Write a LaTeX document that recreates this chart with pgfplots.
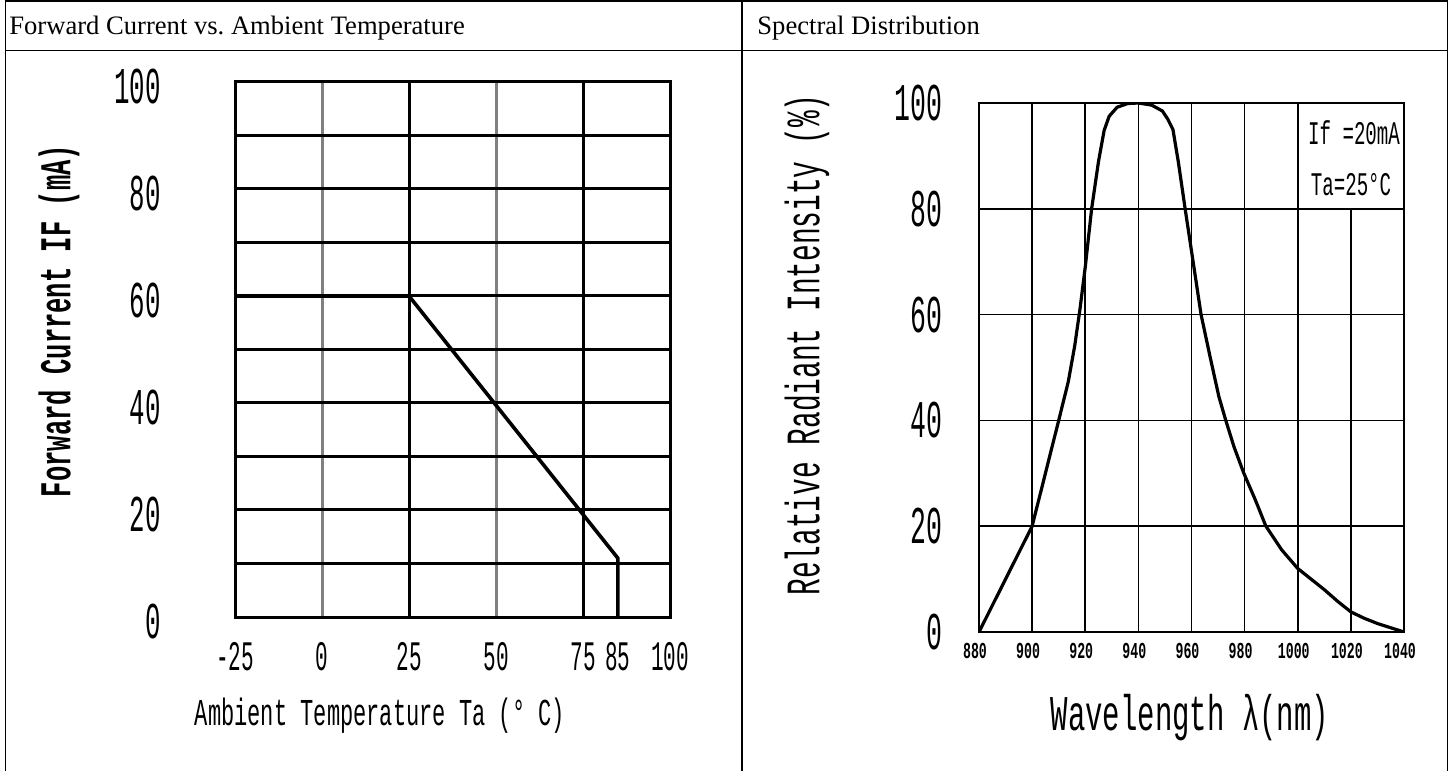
\documentclass[border=0pt]{standalone}
\usepackage{pgfplots}
\pgfplotsset{compat=1.18}
\usepackage{fontspec}
\setmainfont{Liberation Serif}
\newfontfamily\fA[FakeStretch=0.5]{Liberation Mono}
\newfontfamily\fX[FakeStretch=0.58]{Liberation Mono}
\definecolor{gl}{gray}{0.5}
\begin{document}
\begin{tikzpicture}
\useasboundingbox (0,0) rectangle (727.5pt,385.5pt);
% table frame
\draw[line width=0.85pt] (2.75pt,0) -- (2.75pt,385pt) -- (723.75pt,385pt) -- (723.75pt,0);
\draw[line width=0.85pt] (371pt,0) -- (371pt,385pt);
\draw[line width=0.85pt] (2.75pt,360.25pt) -- (723.75pt,360.25pt);
\node[anchor=base west, inner sep=0pt, font=\fontsize{13.3}{14}\selectfont] at (4.5pt,368pt) {Forward Current vs.\ Ambient Temperature};
\node[anchor=base west, inner sep=0pt, font=\fontsize{13.3}{14}\selectfont] at (378.5pt,368pt) {Spectral Distribution};

% ---------------- left chart ----------------
\begin{axis}[at={(117.5pt,77pt)}, anchor=south west, scale only axis,
  width=217.5pt, height=267.5pt,
  xmin=-25, xmax=100, ymin=0, ymax=100,
  xtick={-25,0,25,50,75,85,100}, xticklabels={-25,0,25,50,75,85,100},
  ytick={0,20,40,60,80,100}, yticklabels={0,20,40,60,80,100},
  minor ytick={10,30,50,70,90},
  ymajorgrids, yminorgrids,
  major grid style={black, line width=1.5pt},
  minor grid style={black, line width=1.5pt},
  major tick length=0pt, minor tick length=0pt,
  axis line style={black, line width=1.5pt},
  axis on top,
  xticklabel style={font=\fA\fontsize{21}{21}\selectfont, anchor=center, inner sep=0pt, yshift=-20pt},
  yticklabel style={font=\fA\fontsize{25.8}{26}\selectfont, anchor=east, inner sep=0pt, xshift=-37pt, yshift=-2pt},
]
\addplot[gl, line width=1.5pt, forget plot] coordinates {(-25,80) (100,80)};
\addplot[black, line width=1.5pt, forget plot] coordinates {(25,0) (25,100)};
\addplot[black, line width=1.5pt, forget plot] coordinates {(75,0) (75,100)};
\addplot[gl, line width=1.5pt, forget plot] coordinates {(0,0) (0,100)};
\addplot[gl, line width=1.5pt, forget plot] coordinates {(50,0) (50,100)};
\addplot[black, line width=1.8pt] coordinates {(-25,60) (25,60) (85,11) (85,0)};
\end{axis}

% ---------------- right chart ----------------
\begin{axis}[at={(489.5pt,69.5pt)}, anchor=south west, scale only axis,
  width=212.5pt, height=264.5pt,
  xmin=880, xmax=1040, ymin=0, ymax=100,
  xtick={880,900,920,940,960,980,1000,1020,1040},
  xticklabels={880,900,920,940,960,980,1000,1020,1040},
  ytick={0,20,40,60,80,100}, yticklabels={0,20,40,60,80,100},
  ymajorgrids,
  major grid style={black, line width=0.85pt},
  major tick length=0pt,
  axis line style={black, line width=1.3pt},
  axis on top,
  xticklabel style={font=\fX\bfseries\fontsize{11.4}{12}\selectfont, anchor=center, inner sep=0pt, yshift=-9.5pt, xshift=-2pt},
  yticklabel style={font=\fA\fontsize{26.5}{27}\selectfont, anchor=east, inner sep=0pt, xshift=-18pt},
]
\addplot[black, line width=0.85pt, forget plot] coordinates {(900,0) (900,100)};
\addplot[black, line width=0.85pt, forget plot] coordinates {(920,0) (920,100)};
\addplot[black, line width=0.85pt, forget plot] coordinates {(940,0) (940,100)};
\addplot[black, line width=0.85pt, forget plot] coordinates {(960,0) (960,100)};
\addplot[black, line width=0.85pt, forget plot] coordinates {(980,0) (980,100)};
\addplot[black, line width=0.85pt, forget plot] coordinates {(1000,0) (1000,100)};
\addplot[black, line width=0.85pt, forget plot] coordinates {(1020,0) (1020,80)};
\addplot[black, line width=1.6pt, line join=round] coordinates {
 (880,0) (890,10) (900,20) (905,30) (910,40) (913.6,47.3) (916,54) (918,61) (920,69)
 (922.4,80) (925,89) (927.1,94.8) (929,97.5) (932,99.2) (936,99.9) (940,100)
 (945,99.6) (949,98.5) (951,97) (953,95) (955,89) (957.6,80) (960.6,70) (963.6,60)
 (967,52) (970.3,44.5) (972.9,40) (976,35) (979.7,30) (984,25) (988,20) (994,15.5)
 (1000,12) (1005,10) (1010,8) (1015,5.8) (1020,3.8) (1025,2.6) (1030,1.6)
 (1035,0.8) (1040,0)};
\end{axis}

% axis titles and annotation
\node[rotate=90, inner sep=0pt, font=\fX\bfseries\fontsize{22}{22}\selectfont] at (29.5pt,225pt) {Forward Current IF (mA)};
\node[anchor=base, inner sep=0pt, font=\fX\fontsize{19}{19}\selectfont] at (190pt,23pt) {Ambient Temperature Ta (° C)};
\node[rotate=90, inner sep=0pt, font=\fX\fontsize{24}{24}\selectfont] at (403.5pt,213pt) {Relative Radiant Intensity (\%)};
\node[anchor=base, inner sep=0pt, font=\fX\fontsize{25}{25}\selectfont] at (595pt,20.5pt) {Wavelength λ(nm)};
\node[inner sep=0pt, font=\fX\fontsize{16.5}{17}\selectfont] at (677pt,319pt) {If =20mA};
\node[inner sep=0pt, font=\fX\fontsize{16.5}{17}\selectfont] at (675.5pt,293pt) {Ta=25°C};
\end{tikzpicture}
\end{document}
